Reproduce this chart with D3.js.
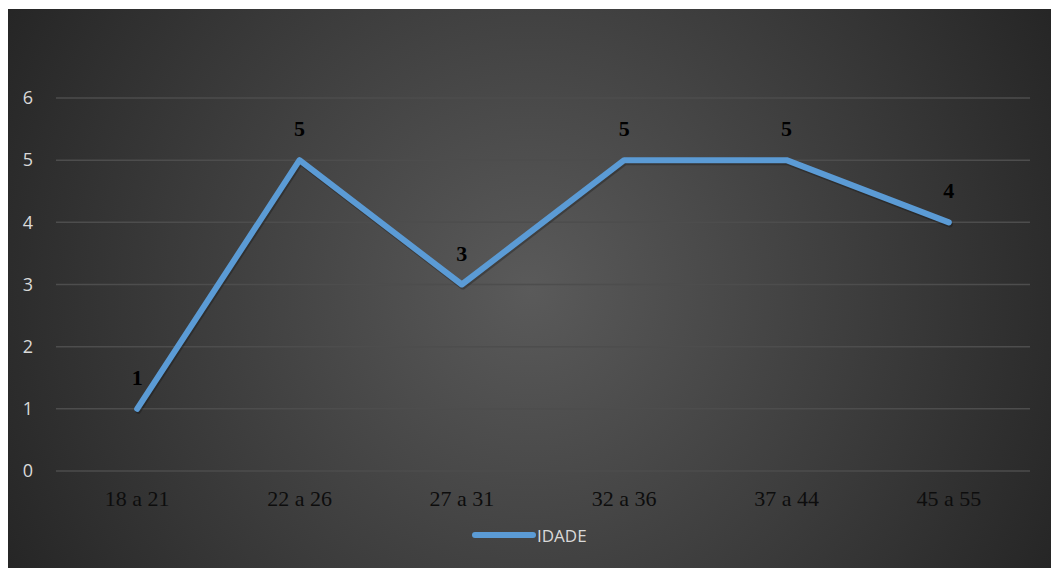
<!DOCTYPE html>
<html>
<head>
<meta charset="utf-8">
<script src="https://cdn.jsdelivr.net/npm/d3@7"></script>
<style>
  html, body { margin: 0; padding: 0; background: #ffffff; }
  svg { display: block; }
</style>
</head>
<body>
<svg id="chart" width="1051" height="568"></svg>
<script>
// Age groups and how many respondents fall in each
const categories = ["18 a 21", "22 a 26", "27 a 31", "32 a 36", "37 a 44", "45 a 55"];
const values = [1, 5, 3, 5, 5, 4];
const yTicks = [0, 1, 2, 3, 4, 5, 6];
const seriesName = "IDADE";

const W = 1051, H = 568;
const svg = d3.select("#chart");

// Dark radial-gradient chart area
const defs = svg.append("defs");
const grad = defs.append("radialGradient")
  .attr("id", "bg")
  .attr("gradientUnits", "userSpaceOnUse")
  .attr("cx", 530).attr("cy", 290).attr("r", 600);
grad.append("stop").attr("offset", "0%").attr("stop-color", "#5a5a5a");
grad.append("stop").attr("offset", "100%").attr("stop-color", "#252525");

svg.append("rect")
  .attr("x", 8).attr("y", 9)
  .attr("width", W - 8).attr("height", H - 9)
  .attr("fill", "url(#bg)");

const plot = { left: 56, right: 1030, top: 98, bottom: 471 };

const x = d3.scaleBand()
  .domain(categories)
  .range([plot.left, plot.right])
  .padding(0);

const y = d3.scaleLinear()
  .domain([0, 6])
  .range([plot.bottom, plot.top]);

// Horizontal gridlines
svg.append("g")
  .selectAll("line")
  .data(yTicks)
  .join("line")
  .attr("x1", plot.left).attr("x2", plot.right)
  .attr("y1", d => y(d)).attr("y2", d => y(d))
  .attr("stroke", "#4d4d4d")
  .attr("stroke-width", 1.5);

// Y axis labels
const yAxis = d3.axisLeft(y).tickValues(yTicks).tickFormat(d3.format("d")).tickSize(0).tickPadding(0);
const yG = svg.append("g")
  .attr("transform", `translate(28,0)`)
  .call(yAxis);
yG.select(".domain").remove();
yG.selectAll("text")
  .attr("fill", "#d9d9d9")
  .attr("font-family", "'Open Sans', 'Noto Sans', sans-serif")
  .attr("font-size", 18)
  .attr("text-anchor", "middle");

// X axis labels
const xAxis = d3.axisBottom(x).tickSize(0).tickPadding(0);
const xG = svg.append("g")
  .attr("transform", `translate(0,${plot.bottom})`)
  .call(xAxis);
xG.select(".domain").remove();
xG.selectAll("text")
  .attr("dy", null)
  .attr("y", 35)
  .attr("fill", "#0d0d0d")
  .attr("font-family", "'Liberation Serif', 'Times New Roman', serif")
  .attr("font-size", 22);

const cx = d => x(d) + x.bandwidth() / 2;

// Series line
const line = d3.line()
  .x((d, i) => cx(categories[i]))
  .y(d => y(d));

svg.append("path")
  .datum(values)
  .attr("d", line)
  .attr("fill", "none")
  .attr("stroke", "rgba(0,0,0,0.25)")
  .attr("stroke-width", 6)
  .attr("stroke-linecap", "round")
  .attr("stroke-linejoin", "round")
  .attr("transform", "translate(1,2)");

svg.append("path")
  .datum(values)
  .attr("d", line)
  .attr("fill", "none")
  .attr("stroke", "#5b9bd5")
  .attr("stroke-width", 6)
  .attr("stroke-linecap", "round")
  .attr("stroke-linejoin", "round");

// Value labels above each point
svg.append("g")
  .selectAll("text")
  .data(values)
  .join("text")
  .attr("x", (d, i) => cx(categories[i]))
  .attr("y", d => y(d) - 24)
  .attr("text-anchor", "middle")
  .attr("fill", "#000000")
  .attr("font-family", "'Liberation Serif', 'Times New Roman', serif")
  .attr("font-weight", "bold")
  .attr("font-size", 22)
  .text(d => d);

// Legend
const legend = svg.append("g").attr("transform", "translate(475,535)");
legend.append("line")
  .attr("x1", 0).attr("x2", 58)
  .attr("y1", 0).attr("y2", 0)
  .attr("stroke", "#5b9bd5")
  .attr("stroke-width", 6)
  .attr("stroke-linecap", "round");
legend.append("text")
  .attr("x", 62).attr("y", 7)
  .attr("fill", "#d9d9d9")
  .attr("font-family", "'Open Sans', 'Noto Sans', sans-serif")
  .attr("font-size", 17)
  .text(seriesName);
</script>
</body>
</html>
